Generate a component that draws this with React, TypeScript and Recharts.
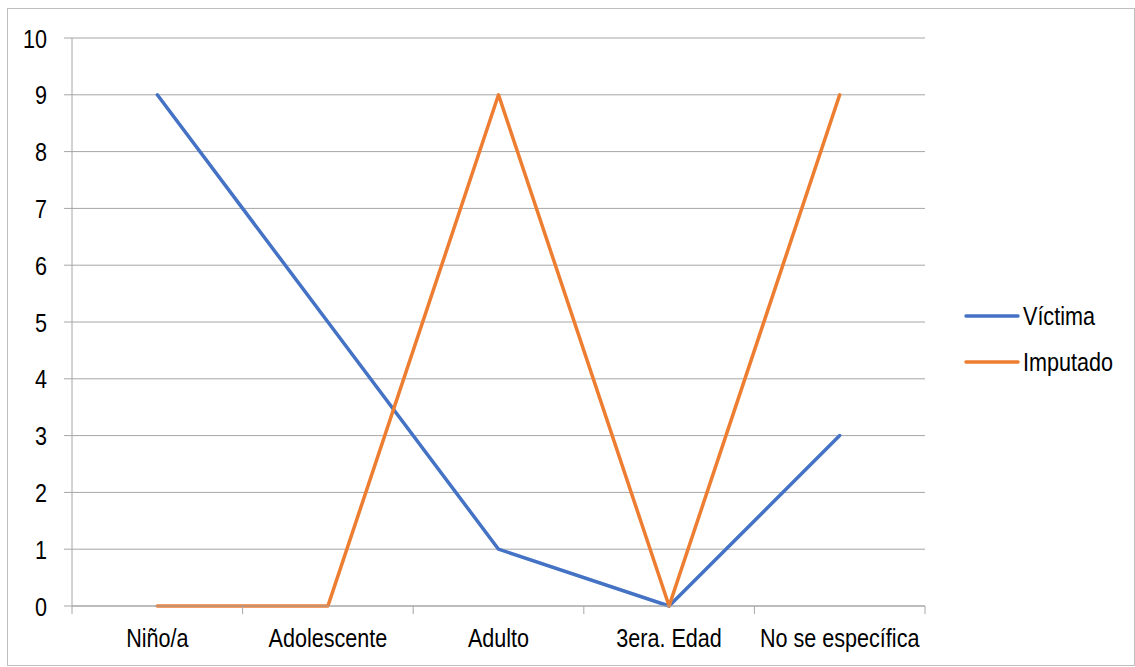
import React from "react";
import { LineChart, Line, XAxis, YAxis, CartesianGrid, Legend } from "recharts";

const categories = ["Niño/a", "Adolescente", "Adulto", "3era. Edad", "No se específica"];
const victimaValues = [9, 5, 1, 0, 3];
const imputadoValues = [0, 0, 9, 0, 9];
const yTicks = [0, 1, 2, 3, 4, 5, 6, 7, 8, 9, 10];
const seriesNames = ["Víctima", "Imputado"];
const seriesColors = ["#4472C4", "#ED7D31"];

const data = categories.map((c, i) => ({
  name: c,
  victima: victimaValues[i],
  imputado: imputadoValues[i],
}));

const FONT = "'Liberation Sans', Arial, sans-serif";
const FS = 26;
const SX = 0.83;
const AXIS_COLOR = "#A6A6A6";

const XTick = (props: any) => {
  const { x, y, payload, width, index } = props;
  const half = width / categories.length / 2;
  return (
    <g>
      <line x1={x - half} y1={y - 8} x2={x - half} y2={y} stroke={AXIS_COLOR} strokeWidth={1} />
      {index === categories.length - 1 && (
        <line x1={x + half} y1={y - 8} x2={x + half} y2={y} stroke={AXIS_COLOR} strokeWidth={1} />
      )}
      <text
        transform={`translate(${x},${y + 33}) scale(${SX},1)`}
        textAnchor="middle"
        fill="#000"
        fontSize={FS}
        fontFamily={FONT}
      >
        {payload.value}
      </text>
    </g>
  );
};

const YTick = (props: any) => {
  const { x, y, payload } = props;
  return (
    <text
      transform={`translate(${x},${y + 9.5}) scale(${SX},1)`}
      textAnchor="end"
      fill="#000"
      fontSize={FS}
      fontFamily={FONT}
    >
      {payload.value}
    </text>
  );
};

const LegendContent = () => (
  <svg width={160} height={90}>
    {seriesNames.map((n, i) => (
      <g key={n}>
        <line
          x1={10}
          y1={27 + i * 46}
          x2={62}
          y2={27 + i * 46}
          stroke={seriesColors[i]}
          strokeWidth={3.5}
          strokeLinecap="round"
        />
        <text
          transform={`translate(67,${36 + i * 46}) scale(${SX},1)`}
          fill="#000"
          fontSize={FS}
          fontFamily={FONT}
        >
          {n}
        </text>
      </g>
    ))}
  </svg>
);

export default function App() {
  return (
    <div
      style={{
        position: "absolute",
        left: 7,
        top: 8,
        width: 1126,
        height: 656,
        border: "1px solid #BFBFBF",
        background: "#fff",
      }}
    >
      <LineChart
        width={1126}
        height={656}
        data={data}
        margin={{ top: 29, right: 49, bottom: 29, left: 14 }}
      >
        <CartesianGrid vertical={false} stroke={AXIS_COLOR} strokeWidth={1} />
        <XAxis
          dataKey="name"
          scale="band"
          axisLine={{ stroke: AXIS_COLOR }}
          tickLine={false}
          tick={<XTick />}
          interval={0}
          height={30}
        />
        <YAxis
          domain={[0, 10]}
          ticks={yTicks}
          interval={0}
          width={50}
          axisLine={{ stroke: AXIS_COLOR }}
          tickLine={{ stroke: AXIS_COLOR }}
          tickSize={8}
          tickMargin={17}
          tick={<YTick />}
        />
        <Legend
          layout="vertical"
          align="right"
          verticalAlign="top"
          content={<LegendContent />}
          wrapperStyle={{ left: 948, top: 280, width: 160, height: 90 }}
        />
        <Line
          type="linear"
          dataKey="victima"
          name={seriesNames[0]}
          stroke={seriesColors[0]}
          strokeWidth={3.5}
          strokeLinecap="round"
          strokeLinejoin="round"
          dot={false}
          isAnimationActive={false}
        />
        <Line
          type="linear"
          dataKey="imputado"
          name={seriesNames[1]}
          stroke={seriesColors[1]}
          strokeWidth={3.5}
          strokeLinecap="round"
          strokeLinejoin="round"
          dot={false}
          isAnimationActive={false}
        />
      </LineChart>
    </div>
  );
}
